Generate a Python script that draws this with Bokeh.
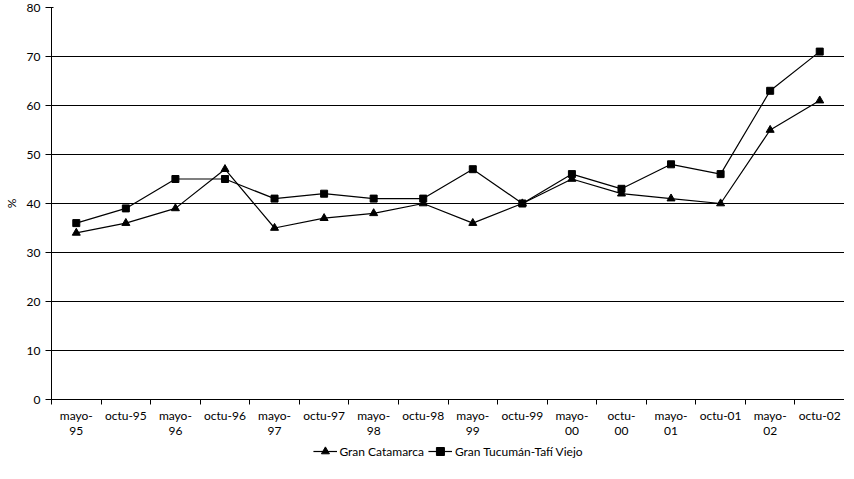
from bokeh.plotting import figure
from bokeh.embed import file_html
from bokeh.resources import INLINE
from bokeh.layouts import column
from bokeh.models import FixedTicker, Legend, Range1d

labels = ["mayo-\n95", "octu-95", "mayo-\n96", "octu-96", "mayo-\n97", "octu-97",
          "mayo-\n98", "octu-98", "mayo-\n99", "octu-99", "mayo-\n00", "octu-\n00",
          "mayo-\n01", "octu-01", "mayo-\n02", "octu-02"]
catamarca = [34, 36, 39, 47, 35, 37, 38, 40, 36, 40, 45, 42, 41, 40, 55, 61]
tucuman = [36, 39, 45, 45, 41, 42, 41, 41, 47, 40, 46, 43, 48, 46, 63, 71]
series_names = ["Gran Catamarca", "Gran Tucumán-Tafí Viejo"]

xs = [i + 0.5 for i in range(len(labels))]
font = "Lato"

p = figure(width=844, height=440, output_backend="svg", toolbar_location=None,
           x_range=Range1d(0, len(labels)), y_range=Range1d(0, 80))
p.outline_line_color = None
p.min_border_left = 49
p.min_border_right = 0
p.min_border_top = 7
p.min_border_bottom = 0
p.xgrid.grid_line_color = None
p.ygrid.grid_line_color = "black"
p.ygrid.grid_line_width = 1

p.yaxis.ticker = FixedTicker(ticks=list(range(0, 90, 10)))
p.yaxis.axis_label = "%"
p.yaxis.axis_label_text_font_style = "normal"
p.yaxis.axis_label_text_font_size = "12px"
p.yaxis.axis_label_text_color = "black"
p.yaxis.minor_tick_line_color = None
p.xaxis.ticker = FixedTicker(ticks=xs, minor_ticks=list(range(len(labels) + 1)))
p.xaxis.major_label_overrides = {x: l for x, l in zip(xs, labels)}
p.xaxis.major_tick_out = 0
p.xaxis.major_tick_in = 0
p.xaxis.minor_tick_out = 5
p.xaxis.minor_tick_in = 0
p.xaxis.major_label_standoff = 3
for ax in (p.xaxis, p.yaxis):
    ax.major_label_text_font = font
    ax.major_label_text_font_size = "12px"
    ax.major_label_text_color = "black"
    ax.axis_label_text_font = font
    ax.axis_line_color = "black"
p.xaxis.major_label_text_line_height = 1.0

p.line(xs, catamarca, color="black", line_width=1.2)
p.scatter(xs, catamarca, marker="triangle", size=8, color="black")
p.line(xs, tucuman, color="black", line_width=1.2)
p.scatter(xs, tucuman, marker="square", size=7, color="black")

# legend lives in its own strip under the chart
lg = figure(width=844, height=22, output_backend="svg", toolbar_location=None,
            x_range=Range1d(0, 1), y_range=Range1d(0, 1), min_border=0)
lg.axis.visible = False
lg.grid.visible = False
lg.outline_line_color = None
a1 = lg.line([5, 6], [5, 6], color="black", line_width=1.2)
a2 = lg.scatter([5], [5], marker="triangle", size=8, color="black")
b1 = lg.line([5, 6], [5, 6], color="black", line_width=1.2)
b2 = lg.scatter([5], [5], marker="square", size=7, color="black")
legend = Legend(items=[(series_names[0], [a1, a2]), (series_names[1], [b1, b2])],
                orientation="horizontal", border_line_color=None, background_fill_alpha=0,
                label_text_font=font, label_text_font_size="12px", label_text_color="black",
                spacing=4, glyph_width=24, label_standoff=3, padding=2, margin=0,
                location="center")
lg.add_layout(legend)

open("out.html", "w").write(file_html(column(p, lg, spacing=0), INLINE))
